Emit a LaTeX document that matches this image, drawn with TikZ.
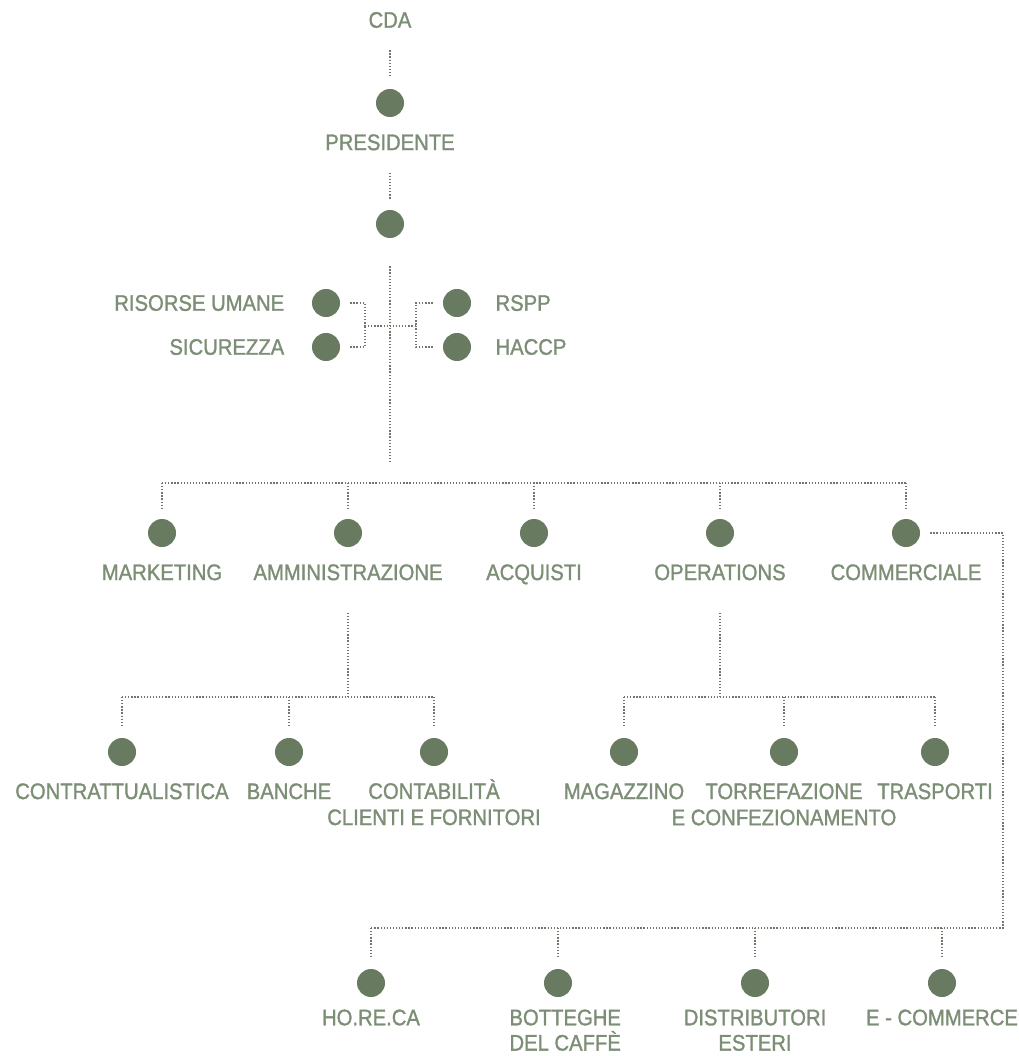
\documentclass[tikz,border=0pt]{standalone}
\usepackage{fontspec}
\setmainfont{Liberation Sans}[FakeStretch=0.9,FakeBold=1.3]
\usetikzlibrary{positioning}
\definecolor{sage}{HTML}{687A60}
\definecolor{sagetext}{HTML}{7D8E76}
\definecolor{sageline}{HTML}{6E7769}

\begin{document}
\begin{tikzpicture}[x=0.025cm,y=-0.025cm,
  unit/.style={circle,fill=sage,inner sep=0pt,minimum size=0.7cm},
  lbl/.style={text=sagetext,font=\fontsize{16}{18.6}\selectfont,inner sep=0pt,align=center},
  conn/.style={sageline,line width=0.9pt,dash pattern=on 0.9pt off 1.3pt},
  node distance=0.42cm]
\useasboundingbox (0,0) rectangle (1018,1056);
% vertice
\node[lbl] (cda) at (390,20) {CDA};
\node[unit] (pres) at (390,103) {};
\node[lbl,below=of pres] (pres-l) {PRESIDENTE};
\node[unit] (ceo) at (390,224) {};
\draw[conn,shorten <=0.55cm,shorten >=0.3cm] (cda) -- (pres);
\draw[conn,shorten <=0.55cm,shorten >=0.25cm] (pres-l) -- (ceo);
\coordinate (trunk) at (390,463);
\draw[conn,shorten <=0.7cm] (ceo) -- (trunk);
% staff
\node[unit] (hr) at (326,303) {};
\node[unit] (sic) at (326,347) {};
\node[unit] (rspp) at (457,303) {};
\node[unit] (haccp) at (457,347) {};
\node[lbl,left=0.68cm of hr] (hr-l) {RISORSE UMANE};
\node[lbl,left=0.68cm of sic] (sic-l) {SICUREZZA};
\node[lbl,right=0.6cm of rspp] (rspp-l) {RSPP};
\node[lbl,right=0.6cm of haccp] (haccp-l) {HACCP};
\coordinate (stl) at (365,326);
\coordinate (str) at (416,326);
\draw[conn] (stl) -- (str);
\draw[conn,shorten <=0.25cm] (hr) -| (stl);
\draw[conn,shorten <=0.25cm] (sic) -| (stl);
\draw[conn,shorten <=0.25cm] (rspp) -| (str);
\draw[conn,shorten <=0.25cm] (haccp) -| (str);
% funzioni
\coordinate (bus-l) at (162,483);
\coordinate (bus-r) at (906,483);
\draw[conn] (bus-l) -- (bus-r);
\node[unit] (mkt) at (162,533) {};
\node[unit] (amm) at (348,533) {};
\node[unit] (acq) at (534,533) {};
\node[unit] (ops) at (720,533) {};
\node[unit] (comm) at (906,533) {};
\draw[conn,shorten >=0.2cm] (mkt |- bus-l) -- (mkt);
\draw[conn,shorten >=0.2cm] (amm |- bus-l) -- (amm);
\draw[conn,shorten >=0.2cm] (acq |- bus-l) -- (acq);
\draw[conn,shorten >=0.2cm] (ops |- bus-l) -- (ops);
\draw[conn,shorten >=0.2cm] (comm |- bus-l) -- (comm);
\node[lbl,below=of mkt] (mkt-l) {MARKETING};
\node[lbl,below=of amm] (amm-l) {AMMINISTRAZIONE};
\node[lbl,below=of acq] (acq-l) {ACQUISTI};
\node[lbl,below=of ops] (ops-l) {OPERATIONS};
\node[lbl,below=of comm] (comm-l) {COMMERCIALE};
% amministrazione
\coordinate (ammbus-l) at (122,697);
\coordinate (ammbus-r) at (434,697);
\draw[conn,shorten <=0.8cm] (amm-l) -- (amm-l |- ammbus-l);
\draw[conn] (ammbus-l) -- (ammbus-r);
\node[unit] (contr) at (122,752) {};
\node[unit] (banche) at (289,752) {};
\node[unit] (conta) at (434,752) {};
\draw[conn,shorten >=0.25cm] (contr |- ammbus-l) -- (contr);
\draw[conn,shorten >=0.25cm] (banche |- ammbus-l) -- (banche);
\draw[conn,shorten >=0.25cm] (conta |- ammbus-l) -- (conta);
\node[lbl,below=of contr] (contr-l) {CONTRATTUALISTICA};
\node[lbl,below=of banche] (banche-l) {BANCHE};
\node[lbl,below=0.32cm of conta] (conta-l) {CONTABILITÀ\\CLIENTI E FORNITORI};
% operations
\coordinate (opsbus-l) at (624,697);
\coordinate (opsbus-r) at (935,697);
\draw[conn,shorten <=0.8cm] (ops-l) -- (ops-l |- opsbus-l);
\draw[conn] (opsbus-l) -- (opsbus-r);
\node[unit] (mag) at (624,752) {};
\node[unit] (torr) at (784,752) {};
\node[unit] (trasp) at (935,752) {};
\draw[conn,shorten >=0.25cm] (mag |- opsbus-l) -- (mag);
\draw[conn,shorten >=0.25cm] (torr |- opsbus-l) -- (torr);
\draw[conn,shorten >=0.25cm] (trasp |- opsbus-l) -- (trasp);
\node[lbl,below=of mag] (mag-l) {MAGAZZINO};
\node[lbl,below=of torr] (torr-l) {TORREFAZIONE\\E CONFEZIONAMENTO};
\node[lbl,below=of trasp] (trasp-l) {TRASPORTI};
% commerciale
\coordinate (combus-r) at (1003,928);
\coordinate (combus-l) at (371,928);
\draw[conn,shorten <=0.25cm] (comm) -| (combus-r) -- (combus-l);
\node[unit] (horeca) at (371,983) {};
\node[unit] (bott) at (558,983) {};
\node[unit] (distr) at (755,983) {};
\node[unit] (ecom) at (942,983) {};
\draw[conn,shorten >=0.3cm] (horeca |- combus-l) -- (horeca);
\draw[conn,shorten >=0.3cm] (bott |- combus-l) -- (bott);
\draw[conn,shorten >=0.3cm] (distr |- combus-l) -- (distr);
\draw[conn,shorten >=0.3cm] (ecom |- combus-l) -- (ecom);
\node[lbl,below=0.3cm of horeca] (horeca-l) {HO.RE.CA};
\node[lbl,below=0.3cm of bott,xshift=0.18cm,font=\fontsize{16}{18}\selectfont] (bott-l) {BOTTEGHE\\DEL CAFFÈ};
\node[lbl,below=0.3cm of distr,font=\fontsize{16}{18}\selectfont] (distr-l) {DISTRIBUTORI\\ESTERI};
\node[lbl,below=0.3cm of ecom] (ecom-l) {E - COMMERCE};
\end{tikzpicture}
\end{document}
